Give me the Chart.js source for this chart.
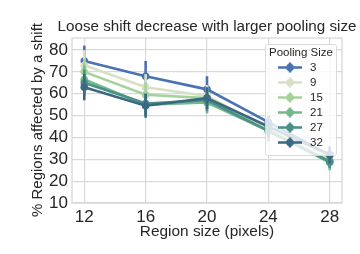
<!DOCTYPE html>
<html>
<head>
<meta charset="utf-8">
<script src="https://cdn.jsdelivr.net/npm/chart.js@4/dist/chart.umd.min.js"></script>
<style>
  html, body { margin: 0; padding: 0; background: #fff; }
  #chart { display: block; }
</style>
</head>
<body>
<canvas id="chart" width="360" height="254"></canvas>
<script>
// x categories (region size in pixels) and y ticks
const regionSizes = [12, 16, 20, 24, 28];
const yTicks = [10, 20, 30, 40, 50, 60, 70, 80];
const poolingSizes = ['3', '9', '15', '21', '27', '32'];
const colors = ['#4a72b2', '#d6e1c3', '#a5d29b', '#72b98c', '#4a9088', '#3b6883'];
const chartTitle = 'Loose shift decrease with larger pooling size';
const yTitle = '% Regions affected by a shift';

// mean values, one array per pooling size
const pool3 = [75, 68, 62, 47, 32];
const pool9 = [73, 63, 59, 44, 30];
const pool15 = [70, 59.5, 58, 43, 29];
const pool21 = [66.5, 55, 56, 43, 28.5];
const pool27 = [65, 55.5, 57, 43, 29];
const pool32 = [63, 54.5, 58, 45, 32];

// error bar lower / upper ends
const low3 = [68, 61, 55, 43, 29], high3 = [82, 75, 68, 51, 35];
const low9 = [66, 57, 54, 38, 26], high9 = [80, 69, 64, 52, 34];
const low15 = [64, 54, 53, 38, 26], high15 = [76, 65, 63, 48, 33];
const low21 = [60, 50, 51, 38, 25], high21 = [73, 60, 61, 48, 32];
const low27 = [59, 50, 52, 39, 26], high27 = [71, 60, 62, 48, 33];
const low32 = [57, 49, 53, 40, 28], high32 = [69, 60, 63, 50, 36];

const means = [pool3, pool9, pool15, pool21, pool27, pool32];
const lows = [low3, low9, low15, low21, low27, low32];
const highs = [high3, high9, high15, high21, high27, high32];

const FONT = "'Liberation Sans', Arial, sans-serif";

const datasets = poolingSizes.map((p, i) => ({
    label: p,
    data: regionSizes.map((x, j) => ({ x: x, y: means[i][j] })),
    errLow: lows[i],
    errHigh: highs[i],
    borderColor: colors[i],
    backgroundColor: colors[i],
    borderWidth: 2.6,
    pointRadius: 3.8,
    pointBorderWidth: 0,
    tension: 0,
    order: poolingSizes.length - i
}));

// vertical error bars, drawn under each series line
const errorBars = {
    id: 'errorBars',
    beforeDatasetDraw(chart, args) {
        const ds = chart.data.datasets[args.index];
        const y = chart.scales.y;
        const ctx = chart.ctx;
        ctx.save();
        ctx.strokeStyle = ds.borderColor;
        ctx.lineWidth = 2.6;
        args.meta.data.forEach((pt, j) => {
            ctx.beginPath();
            ctx.moveTo(pt.x, y.getPixelForValue(ds.errLow[j]));
            ctx.lineTo(pt.x, y.getPixelForValue(ds.errHigh[j]));
            ctx.stroke();
        });
        ctx.restore();
    }
};

// frame round the plot area, plus the title and y title
// (the built-in ones squeeze text that is longer than the plot side)
const frame = {
    id: 'frame',
    beforeDatasetsDraw(chart) {
        const a = chart.chartArea;
        const ctx = chart.ctx;
        ctx.save();
        ctx.strokeStyle = '#d4d4d4';
        ctx.lineWidth = 1.2;
        ctx.strokeRect(a.left, a.top, a.right - a.left, a.bottom - a.top);
        ctx.fillStyle = '#262626';
        ctx.font = '15.2px ' + FONT;
        ctx.textAlign = 'center';
        ctx.textBaseline = 'middle';
        ctx.fillText(chartTitle, (a.left + a.right) / 2, 27);
        ctx.translate(38, 120);
        ctx.rotate(-Math.PI / 2);
        ctx.font = '15px ' + FONT;
        ctx.fillText(yTitle, 0, 0);
        ctx.restore();
    }
};

// legend box in the upper right, drawn over the lines like matplotlib does
const boxLegend = {
    id: 'boxLegend',
    afterDraw(chart) {
        const ctx = chart.ctx;
        const bx = 265, by = 44, bw = 71, bh = 111;
        ctx.save();
        ctx.fillStyle = 'rgba(255,255,255,0.8)';
        ctx.strokeStyle = 'rgba(215,215,215,0.9)';
        ctx.lineWidth = 1;
        ctx.beginPath();
        ctx.roundRect(bx + 0.5, by + 0.5, bw, bh, 2);
        ctx.fill();
        ctx.stroke();

        ctx.fillStyle = '#262626';
        ctx.font = '11.5px ' + FONT;
        ctx.textAlign = 'center';
        ctx.textBaseline = 'middle';
        ctx.fillText('Pooling Size', bx + bw / 2 + 0.5, by + 9);

        chart.data.datasets.forEach((ds, i) => {
            const yy = by + 23.5 + i * 15;
            ctx.strokeStyle = ds.borderColor;
            ctx.lineWidth = 2.6;
            ctx.beginPath();
            ctx.moveTo(bx + 13, yy);
            ctx.lineTo(bx + 37, yy);
            ctx.moveTo(bx + 25, yy - 5);
            ctx.lineTo(bx + 25, yy + 5);
            ctx.stroke();
            ctx.fillStyle = ds.borderColor;
            ctx.beginPath();
            ctx.arc(bx + 25, yy, 3.8, 0, Math.PI * 2);
            ctx.fill();
            ctx.fillStyle = '#262626';
            ctx.textAlign = 'left';
            ctx.fillText(ds.label, bx + 45, yy + 0.5);
        });
        ctx.restore();
    }
};

new Chart(document.getElementById('chart'), {
    type: 'line',
    data: { datasets: datasets },
    options: {
        responsive: false,
        animation: false,
        devicePixelRatio: 1,
        layout: { padding: { left: 28, right: 18, top: 38, bottom: 13 } },
        plugins: {
            legend: { display: false },
            tooltip: { enabled: false },
            title: { display: false }
        },
        scales: {
            x: {
                type: 'linear',
                min: 11.2,
                max: 28.8,
                afterBuildTicks: s => { s.ticks = regionSizes.map(v => ({ value: v })); },
                afterFit: s => { s.height = 38; },
                grid: { color: '#d9d9d9', lineWidth: 1.2, drawTicks: false },
                border: { display: false },
                ticks: { color: '#262626', font: { family: FONT, size: 17 }, padding: 4, maxRotation: 0 },
                title: {
                    display: true,
                    text: 'Region size (pixels)',
                    color: '#262626',
                    font: { family: FONT, size: 15.4 },
                    padding: { top: 0, bottom: 0 }
                }
            },
            y: {
                min: 10,
                max: 85.5,
                afterBuildTicks: s => { s.ticks = yTicks.map(v => ({ value: v })); },
                afterFit: s => { s.width = 44; },
                grid: { color: '#d9d9d9', lineWidth: 1.2, drawTicks: false },
                border: { display: false },
                ticks: { color: '#262626', font: { family: FONT, size: 17 }, padding: 4 },
                title: { display: false }
            }
        }
    },
    plugins: [frame, errorBars, boxLegend]
});
</script>
</body>
</html>
